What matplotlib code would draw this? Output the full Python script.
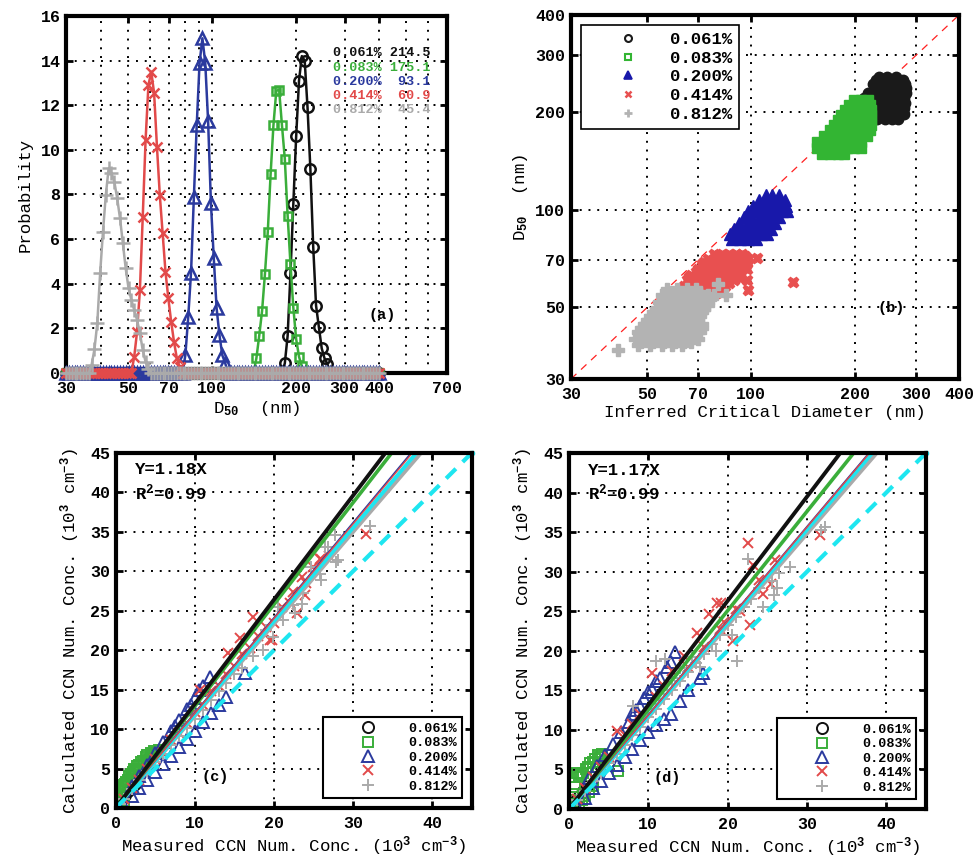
import numpy as np
import matplotlib
matplotlib.use('Agg')
import matplotlib.pyplot as plt
from matplotlib.lines import Line2D
from matplotlib.ticker import NullFormatter, NullLocator

# ---------------- data ----------------
ss_labels = ['0.061%', '0.083%', '0.200%', '0.414%', '0.812%']
d50_mean = ['214.5', '175.1', '93.1', '60.9', '45.4']

# (a) D50 probability distributions on a common log-spaced bin grid
d_bins = 30 * 10 ** (0.0102 * np.arange(111))
peak_start = [77, 67, 42, 24, 9]
peak_vals = [
    [0.43, 1.67, 4.48, 7.57, 10.6, 13.1, 14.2, 14.0, 11.9, 9.15, 5.66, 3.02, 2.05, 1.1, 0.65, 0.4],
    [0.66, 1.67, 2.78, 4.42, 6.3, 8.9, 11.1, 12.64, 12.7, 11.1, 9.6, 7.05, 4.87, 2.93, 1.52, 0.73, 0.3],
    [0.8, 2.5, 4.5, 7.9, 11.1, 13.9, 15.0, 13.9, 11.3, 7.6, 5.15, 2.9, 1.7, 0.8, 0.45],
    [0.73, 1.85, 3.72, 7.0, 10.44, 12.9, 13.5, 12.54, 10.14, 7.98, 6.26, 4.54, 3.35, 2.3, 1.4, 0.66, 0.28],
    [0.36, 1.06, 2.23, 4.47, 6.33, 7.98, 9.17, 8.95, 8.57, 7.83, 6.93, 5.81, 4.69, 3.8, 3.27, 2.82,
     2.38, 1.78, 1.03, 0.5, 0.2],
]

# (b) D50 vs inferred critical diameter (nm), clusters given as rows (y, [x...])
b_black_rows = [(258, [235, 248, 262]), (252, [230, 241, 253, 265, 275]),
                (245, [225, 236, 247, 259, 270, 279]), (238, [228, 239, 250, 261, 272, 280]),
                (230, [218, 229, 240, 251, 262, 273, 280]), (222, [212, 223, 234, 245, 256, 267, 278]),
                (214, [214, 225, 236, 247, 258, 269, 279]), (206, [222, 233, 244, 255, 266, 277]),
                (198, [225, 236, 247, 258, 269, 277]), (191, [232, 244, 256, 267])]
b_green_rows = [(218, [198, 208, 218]), (211, [192, 201, 211, 221]), (204, [187, 196, 205, 214, 222]),
                (197, [182, 191, 200, 209, 218, 223]), (190, [178, 187, 196, 205, 214, 222]),
                (183, [174, 183, 192, 201, 210, 219, 223]), (176, [169, 178, 187, 196, 205, 214, 221]),
                (169, [162, 171, 180, 189, 198, 207, 216]), (162, [155, 164, 173, 182, 191, 200, 208]),
                (155, [155, 163, 172, 181, 190, 199, 208]), (149, [160, 169, 178, 186])]
b_blue_rows = [(111, [110, 115, 120]), (107, [105, 110, 115, 120, 125]),
               (103, [101, 106, 111, 116, 121, 126]), (99, [98, 103, 108, 113, 118, 123, 127]),
               (95, [95, 100, 105, 110, 115, 120]), (91, [92, 97, 102, 107, 112, 117]),
               (87, [89, 94, 99, 104, 109, 114]), (84, [87, 92, 97, 102, 107, 111]),
               (81, [88, 93, 98, 103])]
b_red_rows = [(73, [78, 82, 86, 90, 94]), (71.8, [80, 84, 88, 92, 96]),
              (70.5, [75, 79, 83, 87, 91, 95, 98]), (69.2, [73, 77, 81, 85, 89, 93, 97]),
              (68, [72, 76, 80, 84, 88, 92, 96]), (66.8, [72, 76, 80, 84, 88, 92, 96]),
              (65.5, [70, 74, 78, 82, 86, 90, 94, 97]), (64.2, [69, 73, 77, 81, 85, 89, 93]),
              (63, [67, 71, 75, 79, 83, 87, 91]), (61.8, [66, 70, 74, 78, 82, 86, 90]),
              (60.5, [65, 69, 73, 77, 81, 85, 89]), (59.2, [66, 70, 74, 78, 82, 86]),
              (58, [64, 68, 72, 76, 80, 84]), (57, [65, 69, 73, 77, 81]), (55.5, [66, 70, 74, 78, 82]),
              (70.8, [103.6]), (60, [132]), (60.7, [96.9]), (56.5, [97.5]), (61.4, [92.7])]
b_gray_rows = [(57, [57, 61, 65, 69]), (55.8, [59, 63, 67, 71]), (54.5, [55, 59, 63, 67, 71, 75, 78]),
               (53.2, [57, 61, 65, 69, 73, 77]), (52, [54, 58, 62, 66, 70, 74]),
               (50.7, [55, 59, 63, 67, 71, 75]), (49.5, [53, 57, 61, 65, 69, 73]),
               (48.2, [52, 56, 60, 64, 68, 72]), (47, [51, 55, 59, 63, 67, 71]),
               (45.7, [50, 54, 58, 62, 66, 70]), (44.5, [49, 53, 57, 61, 65, 69, 72]),
               (43.2, [48, 52, 56, 60, 64, 68, 72]), (42, [47, 51, 55, 59, 63, 67, 71]),
               (41, [48, 52, 56, 60, 64, 68]), (40, [46, 50, 54, 58, 62, 66, 70]),
               (39, [48, 52, 56, 60, 64, 67]), (38.2, [47, 51, 55, 59, 63]),
               (37, [41]), (59, [80]), (54.6, [84.4])]

# (c) measured vs calculated CCN (10^3 cm^-3)
c_black_x = [0.2, 0.5, 0.8, 1.2, 1.6, 2.0, 2.4]
c_black_y = [0.3, 0.6, 1.1, 1.6, 2.1, 2.6, 3.1]
c_green_x = [0.1, 0.2, 0.3, 0.4, 0.5, 0.6, 0.7, 0.8, 0.9, 1.0, 1.1, 1.2, 1.3, 1.5, 1.6, 1.7, 1.9, 2.0,
             2.2, 2.3, 2.5, 2.7, 2.9, 3.0, 3.2, 3.4, 3.6, 3.8, 4.0, 4.2, 4.4, 4.6, 4.9, 5.2, 5.5, 0.3, 0.6, 1.0]
c_green_y = [0.3, 0.6, 0.9, 1.0, 1.3, 1.5, 1.8, 2.1, 2.6, 2.9, 2.4, 3.0, 3.3, 3.6, 3.0, 4.1, 4.3, 3.8,
             4.6, 5.0, 4.8, 5.3, 5.5, 5.0, 5.8, 6.0, 5.6, 6.4, 6.7, 6.2, 7.0, 6.9, 7.2, 7.0, 7.3, 0.0, 0.2, 0.5]
c_blue_x = [1, 2, 3, 4, 5, 6, 7, 8, 9, 10, 11, 12, 13, 14, 16.3,
            2, 3, 4, 5, 6, 7, 7.5, 8, 9, 9.5, 10, 10.5, 11, 11.9]
c_blue_y = [0.3, 1.5, 2.5, 3.6, 4.6, 5.6, 6.6, 7.7, 8.7, 9.8, 10.9, 12.0, 13.0, 14.1, 17.1,
            2.8, 4.1, 5.5, 7.0, 8.3, 9.8, 10.4, 11.2, 12.6, 13.0, 14.0, 15.0, 15.4, 16.6]
c_red_x = [10.6, 14.2, 15.7, 17.4, 19.7, 22.4, 23.5, 31.6, 23.9, 22.9, 19.5, 25.8,
           1, 2, 3, 4, 5, 6, 7, 8, 9, 10, 11, 12, 13, 14, 15, 16, 17, 18, 19, 20, 21, 22, 24, 25, 26, 27]
c_red_y = [15.0, 19.6, 21.5, 24.2, 21.3, 27.4, 29.3, 34.7, 27.0, 24.7, 21.3, 31.6,
           1.2, 2.5, 3.5, 5.0, 6.2, 7.0, 8.6, 9.5, 10.8, 12.2, 13.0, 14.8, 15.5, 17.0, 18.0, 19.5,
           20.3, 21.8, 23.0, 23.5, 25.5, 26.0, 28.5, 30.5, 31.5, 32.0]
c_gray_x = [32.1, 27.7, 26.8, 27.9, 25.8, 26.0, 24.7, 23.7, 22.4, 22.6, 21.2, 19.9, 18.6, 17.4, 16, 15,
            14, 13, 12, 11, 10, 9, 8, 7, 6, 5, 4, 3, 2, 1, 0.5, 19, 20.5, 28.1, 26.4, 23.5]
c_gray_y = [35.7, 34.6, 33.1, 31.2, 29.7, 28.9, 30.6, 27.2, 25.7, 24.7, 23.8, 21.7, 20.0, 19.2, 17.8, 17.0,
            15.8, 14.8, 13.7, 12.4, 11.3, 10.2, 9.1, 8.0, 6.9, 5.8, 4.7, 3.5, 2.4, 1.2, 0.5, 22.5, 25.5,
            31.4, 33.1, 25.9]
c_slopes = [1.32, 1.29, 1.205, 1.20, 1.166]
c_fit = 1.184

# (d)
d_black_x = [0.2, 0.5, 0.9, 1.3, 1.8, 2.3]
d_black_y = [0.3, 0.7, 1.2, 1.7, 2.3, 2.9]
d_green_x = [0.1, 0.3, 0.5, 0.7, 0.97, 1.2, 1.5, 1.8, 2.1, 2.4, 2.7, 3.0, 3.3, 3.6, 3.9, 4.2, 6.2,
             0.4, 0.8, 1.2, 1.6, 2.0, 2.5, 3.0]
d_green_y = [0.4, 1.2, 1.9, 2.8, 4.5, 4.0, 4.3, 4.6, 5.0, 5.3, 5.8, 6.0, 6.3, 6.8, 6.6, 6.9, 4.8,
             0.0, 0.3, 0.7, 1.1, 1.6, 2.2, 2.9]
d_blue_x = [2.5, 3.5, 4.5, 5.5, 6.5, 7.5, 8.5, 9.5, 10.5, 11.5, 12.4, 13.4, 12.8, 9.0, 8.0, 10, 11,
            1, 2, 3, 4, 5, 6, 7, 8, 9, 10, 11, 12, 12.9, 14, 15, 16.5, 16.9]
d_blue_y = [3.9, 5.4, 6.8, 8.2, 9.7, 11.0, 12.5, 14.0, 15.2, 16.6, 18.0, 19.8, 18.6, 13.0, 12.0, 14.8, 16.2,
            0.4, 1.4, 2.6, 3.6, 4.6, 5.6, 6.6, 7.6, 8.7, 9.7, 10.6, 11.4, 12.0, 13.7, 15.0, 16.6, 17.2]
d_red_x = [22.6, 31.7, 22.8, 20.7, 18.6, 17.6, 16.1, 10.5, 6.0, 23.2, 19.2, 14.5, 13.0, 12, 11, 9, 8, 7,
           5, 4, 3, 2, 1, 15, 17, 19, 21, 24, 26, 21.5, 24.5, 25.5, 19.5]
d_red_y = [33.6, 34.6, 23.3, 21.2, 26.1, 24.7, 22.3, 17.2, 9.9, 30.8, 26.0, 19.4, 17.5, 15.5, 14.2, 12.0,
           10.8, 9.4, 6.6, 5.3, 4.0, 2.6, 1.3, 18.0, 20.5, 22.8, 25.3, 29.0, 31.5, 25.0, 27.2, 28.5, 23.6]
d_gray_x = [31.8, 32.3, 22.6, 27.9, 25.6, 25.9, 21.2, 12.1, 11.0, 8.1, 26.5, 24.0, 23.0, 22.0, 21, 20, 19,
            18, 17, 16, 15, 14, 13, 12, 11, 10, 9, 8, 7, 6, 5, 4, 3, 2, 1, 20.5, 18.5, 16.5, 24.5,
            26.2, 14.0, 15.5, 13.0]
d_gray_y = [35.3, 35.6, 31.6, 30.6, 28.8, 27.1, 18.7, 18.9, 18.7, 13.0, 29.8, 28.0, 26.6, 25.5, 24.3,
            23.2, 22.0, 20.8, 19.6, 18.5, 17.3, 16.2, 15.0, 13.9, 12.7, 11.6, 10.4, 9.3, 8.1, 7.0, 5.8,
            4.6, 3.5, 2.3, 1.2, 22.0, 20.0, 18.0, 25.5, 28.0, 17.8, 19.2, 16.6]
d_slopes = [1.316, 1.254, 1.19, 1.188, 1.16]
d_fit = 1.177

# ---------------- style ----------------
plt.rcParams['font.family'] = ['Liberation Mono', 'DejaVu Sans Mono']
plt.rcParams['font.weight'] = 'bold'
plt.rcParams['mathtext.fontset'] = 'custom'
plt.rcParams['mathtext.rm'] = 'Liberation Mono:bold'
plt.rcParams['mathtext.it'] = 'Liberation Mono:bold'
plt.rcParams['mathtext.bf'] = 'Liberation Mono:bold'
plt.rcParams['axes.linewidth'] = 3

cols = ['#111111', '#3aae3a', '#2b3a9e', '#e24a4a', '#aaaaaa']
cols_b = ['#1a1a1a', '#33b533', '#1818aa', '#e85050', '#b3b3b3']
cyan = '#1ee6f0'
mk = ['o', 's', '^', 'x', '+']
grid_ls = (0, (1, 3.5))
FS = 12.5


def style(ax):
    ax.tick_params(which='major', direction='in', length=5, width=2, top=True, right=True,
                   labelsize=12)
    ax.tick_params(axis='x', pad=6)
    ax.tick_params(axis='y', pad=4)
    ax.grid(True, which='major', color='k', linestyle=grid_ls, linewidth=1.4)
    ax.set_axisbelow(True)


def rows_to_xy(rows):
    xs, ys = [], []
    for y, xlist in rows:
        xs += list(xlist)
        ys += [y] * len(xlist)
    return xs, ys


fig = plt.figure(figsize=(9.74, 8.58), dpi=100)

# ---------------- (a) ----------------
ax = fig.add_axes([0.0678, 0.5653, 0.3912, 0.4161])
ms_a = [7.5, 6, 8.5, 6.5, 10]
for i in range(5):
    p = np.zeros(len(d_bins))
    p[peak_start[i]:peak_start[i] + len(peak_vals[i])] = peak_vals[i]
    ax.plot(d_bins, p, color=cols[i], marker=mk[i], ms=ms_a[i], mfc='none', mew=1.8,
            lw=1.8, clip_on=False, zorder=3)
ax.set_xscale('log')
ax.set_xlim(30, 700)
ax.set_ylim(0, 16)
ax.set_xticks([30, 50, 70, 100, 200, 300, 400, 700])
ax.set_xticklabels(['30', '50', '70', '100', '200', '300', '400', '700'])
ax.set_xticks([40, 60, 80, 90, 500, 600], minor=True)
ax.xaxis.set_minor_formatter(NullFormatter())
ax.tick_params(which='minor', length=0)
ax.set_yticks(range(0, 17, 2))
style(ax)
ax.grid(True, which='minor', axis='x', color='k', linestyle=grid_ls, linewidth=1.4)
ax.set_xlabel('D$_{50}$  (nm)', fontsize=FS, labelpad=2)
ax.set_ylabel('Probability', fontsize=FS, labelpad=6)
for i, yy in enumerate([0.896, 0.854, 0.815, 0.776, 0.737]):
    ax.text(0.70, yy, '%s %5s' % (ss_labels[i], d50_mean[i]), color=cols[i], fontsize=9.7,
            transform=ax.transAxes, va='center', ha='left')
ax.text(0.8286, 0.1625, '(a)', transform=ax.transAxes, fontsize=11, ha='center', va='center')

# ---------------- (b) ----------------
ax = fig.add_axes([0.5862, 0.5583, 0.3984, 0.4242])
ax.plot([30, 400], [30, 400], color='#ff2020', lw=0.9, dashes=(6, 5))
b_rows = [b_black_rows, b_green_rows, b_blue_rows, b_red_rows, b_gray_rows]
mk_b = ['o', 's', '^', 'X', 'P']
ms_b = [7.5, 6.5, 8.5, 7.5, 9]
for i in range(5):
    xs, ys = rows_to_xy(b_rows[i])
    ax.plot(xs, ys, ls='none', marker=mk_b[i], ms=ms_b[i], color=cols_b[i], mec=cols_b[i], mew=1.0)
ax.set_xscale('log')
ax.set_yscale('log')
ax.set_xlim(30, 400)
ax.set_ylim(30, 400)
ticks_b = [30, 50, 70, 100, 200, 300, 400]
ax.set_xticks(ticks_b)
ax.set_xticklabels([str(t) for t in ticks_b])
ax.set_yticks(ticks_b)
ax.set_yticklabels([str(t) for t in ticks_b])
ax.xaxis.set_minor_locator(NullLocator())
ax.yaxis.set_minor_locator(NullLocator())
style(ax)
ax.set_xlabel('Inferred Critical Diameter (nm)', fontsize=FS, labelpad=2)
ax.set_ylabel('D$_{50}$  (nm)', fontsize=FS, labelpad=4)
hb = [Line2D([], [], ls='none', marker='o', ms=5, mfc='none', mec=cols_b[0], mew=1.5),
      Line2D([], [], ls='none', marker='s', ms=4.5, mfc='none', mec=cols_b[1], mew=1.5),
      Line2D([], [], ls='none', marker='^', ms=6, color=cols_b[2], mew=1.2),
      Line2D([], [], ls='none', marker='x', ms=4.5, mec=cols_b[3], mew=1.8),
      Line2D([], [], ls='none', marker='+', ms=6, mec=cols_b[4], mew=2)]
leg = ax.legend(hb, ss_labels, loc='upper left', bbox_to_anchor=(0.026, 0.9725), borderaxespad=0,
                fontsize=FS, handlelength=4.6, handletextpad=0.1, borderpad=0.4, labelspacing=0.2,
                fancybox=False, edgecolor='k', framealpha=1)
leg.get_frame().set_linewidth(1.2)
ax.text(0.8265, 0.194, '(b)', transform=ax.transAxes, fontsize=11, ha='center', va='center')


# ---------------- (c) and (d) ----------------
def ccn_panel(rect, pts, slopes, fit, eq, tag, tag_xy):
    ax = fig.add_axes(rect)
    ms_c = [8, 6.5, 8.5, 6.5, 9]
    handles = []
    for i in range(5):
        h, = ax.plot(pts[i][0], pts[i][1], ls='none', marker=mk[i], ms=ms_c[i], mfc='none',
                     mec=cols[i], mew=1.4)
        handles.append(h)
    xx = np.array([0, 45])
    ax.plot(xx, xx * slopes[4], color=cols[4], lw=2.8)
    ax.plot(xx, xx * fit, color=cyan, lw=2.8)
    ax.plot(xx, xx * slopes[2], color=cols[2], lw=1.2)
    ax.plot(xx, xx * slopes[3], color=cols[3], lw=1.0)
    ax.plot(xx, xx * slopes[1], color=cols[1], lw=2.6)
    ax.plot(xx, xx * slopes[0], color=cols[0], lw=2.8)
    ax.plot(xx, xx, color=cyan, lw=3, dashes=(3.3, 2.3), marker='o', ms=3, markevery=[1],
            clip_on=False)
    ax.set_xlim(0, 45)
    ax.set_ylim(0, 45)
    ax.set_xticks([0, 10, 20, 30, 40])
    ax.set_yticks(range(0, 46, 5))
    style(ax)
    ax.set_xlabel('Measured CCN Num. Conc. (10$^{3}$ cm$^{-3}$)', fontsize=FS, labelpad=2)
    ax.set_ylabel('Calculated CCN Num. Conc. (10$^{3}$ cm$^{-3}$)', fontsize=FS, labelpad=6)
    ax.text(0.054, 0.952, eq, transform=ax.transAxes, fontsize=FS, va='center', ha='left')
    ax.text(0.054, 0.888, 'R$^{2}$=0.99', transform=ax.transAxes, fontsize=FS, va='center', ha='left')
    ax.text(tag_xy[0], tag_xy[1], tag, transform=ax.transAxes, fontsize=11, ha='center', va='center')
    leg = ax.legend(handles, ss_labels, loc='lower right', bbox_to_anchor=(0.973, 0.028),
                    borderaxespad=0, fontsize=9.7, handlelength=5.8, handletextpad=0.1,
                    borderpad=0.4, labelspacing=0.15, fancybox=False, edgecolor='k', framealpha=1)
    leg.get_frame().set_linewidth(1.5)
    return ax


c_pts = [(c_black_x, c_black_y), (c_green_x, c_green_y), (c_blue_x, c_blue_y),
         (c_red_x, c_red_y), (c_gray_x, c_gray_y)]
d_pts = [(d_black_x, d_black_y), (d_green_x, d_green_y), (d_blue_x, d_blue_y),
         (d_red_x, d_red_y), (d_gray_x, d_gray_y)]
ccn_panel([0.1188, 0.0583, 0.3655, 0.4138], c_pts, c_slopes, c_fit, 'Y=1.18X', '(c)', (0.279, 0.088))
ccn_panel([0.5842, 0.0571, 0.3665, 0.4149], d_pts, d_slopes, d_fit, 'Y=1.17X', '(d)', (0.274, 0.086))

fig.savefig('out.png', dpi=100)
